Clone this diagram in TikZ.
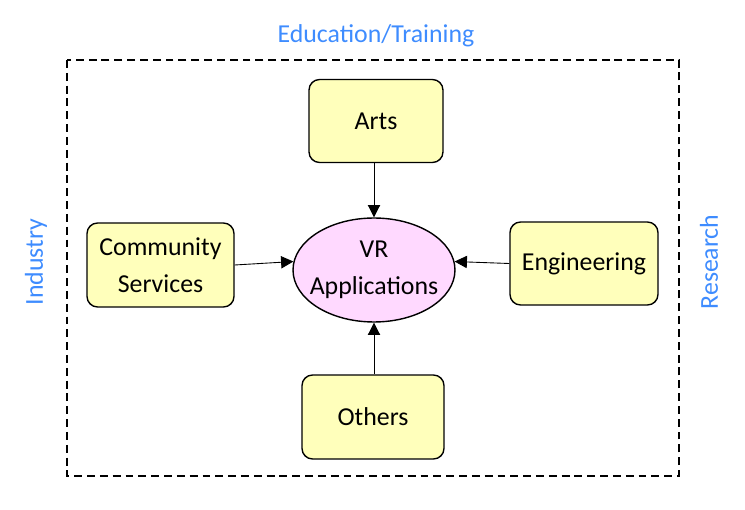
\documentclass[tikz,border=0pt]{standalone}
\usepackage{fontspec}
\setmainfont{Carlito}
\usetikzlibrary{arrows.meta,shapes.geometric}
\definecolor{boxyellow}{RGB}{255,255,187}
\definecolor{vrpink}{RGB}{255,217,255}
\definecolor{areablue}{RGB}{62,140,255}
\tikzset{
  field/.style={draw,line width=0.8pt,fill=boxyellow,rounded corners=6pt,
    align=center,font=\fontsize{14.7}{21}\selectfont},
  area/.style={text=areablue,font=\fontsize{14.7}{18}\selectfont},
  feed/.style={-{Triangle[length=7pt,width=7pt]},line width=0.5pt}
}
\begin{document}
\begin{tikzpicture}[x=0.02cm,y=-0.02cm]
  \useasboundingbox (0,0) rectangle (745,510);
  \draw[line width=1.1pt,dash pattern=on 4.5pt off 2.8pt] (67,60) rectangle (679,476);
  %
  \node[area] (edu) at (376,36) {Education/Training};
  \node[area,rotate=90] (ind) at (36,262) {Industry};
  \node[area,rotate=90] (res) at (709,262) {Research};
  %
  \node[draw,line width=0.8pt,fill=vrpink,ellipse,minimum width=3.24cm,minimum height=2.08cm,
    inner xsep=-7pt,inner ysep=0pt,align=center,font=\fontsize{14.7}{21}\selectfont] (vr) at (374,270) {VR\\Applications};
  %
  \node[field,minimum width=2.68cm,minimum height=1.66cm] (arts) at (376,121) {Arts};
  \node[field,minimum width=2.94cm,minimum height=1.68cm] (comm) at (160.5,265) {Community\\Services};
  \node[field,minimum width=2.96cm,minimum height=1.66cm] (eng) at (584,263.5) {Engineering};
  \node[field,minimum width=2.84cm,minimum height=1.68cm] (oth) at (373,417) {Others};
  %
  \draw[feed] (vr.north |- arts.south) -- (vr.north);
  \draw[feed] (comm.east) -- (vr.174);
  \draw[feed] (eng.west) -- (vr.6);
  \draw[feed] (vr.south |- oth.north) -- (vr.south);
\end{tikzpicture}
\end{document}
